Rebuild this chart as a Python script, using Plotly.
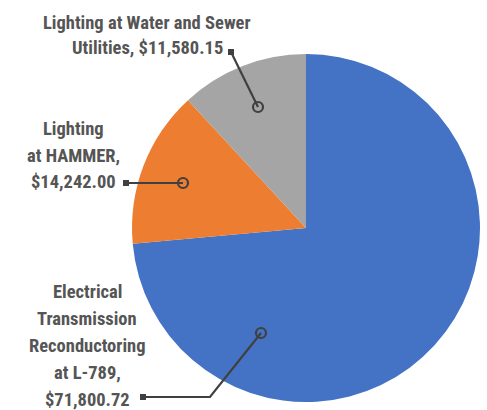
import plotly.graph_objects as go

W, H = 487, 410

labels = ["Electrical Transmission Reconductoring at L-789",
          "Lighting at HAMMER",
          "Lighting at Water and Sewer Utilities"]
values = [71800.72, 14242.00, 11580.15]
colors = ["#4472C4", "#ED7D31", "#A5A5A5"]
label_lines = [
    ["Electrical", "Transmission", "Reconductoring", "at L-789,", "$71,800.72"],
    ["Lighting", "at HAMMER,", "$14,242.00"],
    ["Lighting at Water and Sewer", "Utilities, $11,580.15"],
]

def px(x):
    return x / W

def py(y):
    return 1 - y / H

fig = go.Figure(go.Pie(
    labels=labels, values=values, sort=False, direction="clockwise", rotation=0,
    marker=dict(colors=colors, line=dict(width=0)),
    textinfo="none", showlegend=False,
    domain=dict(x=[px(132), px(480)], y=[py(402), py(54)]),
))

font = dict(family="Roboto Condensed, Liberation Sans Narrow, Roboto, sans-serif",
            size=18.5, color="#555555")

# label block positions (pixels): center x, first line y, line spacing
ann_pos = [(87, 292, 27), (73, 128.5, 27), (147, 23, 25)]
for lines, (x, y0, dy) in zip(label_lines, ann_pos):
    for i, t in enumerate(lines):
        fig.add_annotation(x=px(x), y=py(y0 + i * dy), xref="paper", yref="paper",
                           text="<b>" + t + "</b>", showarrow=False, font=font,
                           xanchor="center", yanchor="middle")

lc = "#404040"
leaders = [
    [(261, 333), (210, 397), (143, 397)],
    [(183, 183), (126, 183)],
    [(258, 107), (231, 52)],
]
for pts in leaders:
    path = "M " + " L ".join(f"{px(x)},{py(y)}" for x, y in pts)
    fig.add_shape(type="path", path=path, xref="paper", yref="paper",
                  line=dict(color=lc, width=2.2))
    cx, cy = pts[0]
    r = 5
    fig.add_shape(type="circle", xref="paper", yref="paper",
                  x0=px(cx - r), x1=px(cx + r), y0=py(cy + r), y1=py(cy - r),
                  line=dict(color=lc, width=2.2), fillcolor="rgba(0,0,0,0)")
    sx, sy = pts[-1]
    s = 3
    fig.add_shape(type="rect", xref="paper", yref="paper",
                  x0=px(sx - s), x1=px(sx + s), y0=py(sy + s), y1=py(sy - s),
                  line=dict(color=lc, width=0), fillcolor=lc)

fig.update_layout(width=W, height=H, margin=dict(l=0, r=0, t=0, b=0),
                  paper_bgcolor="white", plot_bgcolor="white")
fig.write_html("out.html", config={"displayModeBar": False},
               post_script="document.body.style.margin='0';")
